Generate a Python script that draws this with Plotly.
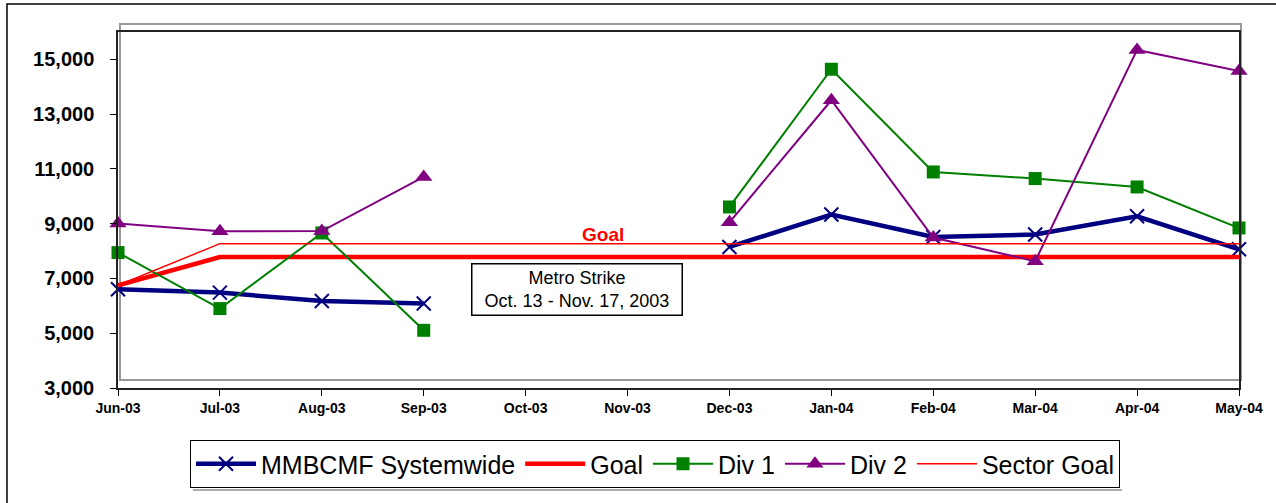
import plotly.graph_objects as go

months = ["Jun-03", "Jul-03", "Aug-03", "Sep-03", "Oct-03", "Nov-03",
          "Dec-03", "Jan-04", "Feb-04", "Mar-04", "Apr-04", "May-04"]

systemwide = [6605, 6484, 6178, 6083, None, None, 8150, 9333, 8515, 8603, 9271, 8066]
goal = [6750, 7780, 7780, 7780, 7780, 7780, 7780, 7780, 7780, 7780, 7780, 7780]
div1 = [7945, 5900, 8661, 5107, None, None, 9611, 14640, 10889, 10648, 10341, 8844]
div2 = [9004, 8723, 8730, 10706, None, None, 9052, 13508, 8493, 7627, 15345, 14578]
sector_goal = [6750, 8270, 8270, 8270, 8270, 8270, 8270, 8270, 8270, 8270, 8270, 8270]

y_ticks = [3000, 5000, 7000, 9000, 11000, 13000, 15000]

FONT = "Arial, Liberation Sans, sans-serif"
W, H = 1276, 503
L, R, T, B = 118, 37, 32, 115
pw, ph = W - L - R, H - T - B


def px(x):
    return (x - L) / pw


def py(y):
    return (H - B - y) / ph


fig = go.Figure()
fig.add_trace(go.Scatter(
    x=months, y=systemwide, name="MMBCMF Systemwide", mode="lines+markers",
    line=dict(color="#000080", width=4.5),
    marker=dict(symbol="x-thin", size=14, line=dict(color="#000080", width=2)),
    connectgaps=False, cliponaxis=False))
fig.add_trace(go.Scatter(
    x=months, y=goal, name="Goal", mode="lines",
    line=dict(color="#FF0000", width=4.5), cliponaxis=False))
fig.add_trace(go.Scatter(
    x=months, y=div1, name="Div 1", mode="lines+markers",
    line=dict(color="#008000", width=2),
    marker=dict(symbol="square", size=13, color="#008000"),
    connectgaps=False, cliponaxis=False))
fig.add_trace(go.Scatter(
    x=months, y=div2, name="Div 2", mode="lines+markers",
    line=dict(color="#800080", width=2),
    marker=dict(symbol="triangle-up", size=15, color="#800080"),
    connectgaps=False, cliponaxis=False))
fig.add_trace(go.Scatter(
    x=months, y=sector_goal, name="Sector Goal", mode="lines",
    line=dict(color="#FF0000", width=1.5), cliponaxis=False))

fig.update_layout(
    width=W, height=H,
    margin=dict(l=L, r=R, t=T, b=B),
    paper_bgcolor="white", plot_bgcolor="white",
    font=dict(family=FONT, color="black"),
    showlegend=True,
    legend=dict(orientation="h",
                xref="container", x=655 / W, xanchor="center",
                yref="container", y=1 - 440 / H, yanchor="top",
                font=dict(family=FONT, size=25, color="black"),
                bordercolor="black", borderwidth=1, bgcolor="white",
                itemwidth=60, tracegroupgap=0),
    xaxis=dict(type="category", range=[0, len(months) - 1],
               showgrid=False, zeroline=False,
               showline=True, linecolor="#222", linewidth=1.5, mirror=True,
               ticks="outside", ticklen=6, tickcolor="black",
               tickfont=dict(family=FONT, size=14, weight="bold")),
    yaxis=dict(range=[3000, 16000], tickvals=y_ticks, tickformat=",d",
               showgrid=False, zeroline=False,
               showline=True, linecolor="#222", linewidth=1.5, mirror=True,
               ticks="outside", ticklen=6, tickcolor="black",
               ticklabelstandoff=12,
               tickfont=dict(family=FONT, size=20, weight="bold")),
    shapes=[
        # outer chart frame
        dict(type="rect", xref="paper", yref="paper",
             x0=px(7), x1=px(1300), y0=py(530), y1=py(4),
             line=dict(color="black", width=1.5), layer="below"),
        # plot-area frame
        dict(type="rect", xref="paper", yref="paper",
             x0=px(120), x1=px(1241), y0=py(380), y1=py(24),
             line=dict(color="#999999", width=2), layer="below"),
        # legend shadow
        dict(type="line", xref="paper", yref="paper",
             x0=px(193), x1=px(1122), y0=py(490), y1=py(490),
             line=dict(color="#aaaaaa", width=2)),
    ],
    annotations=[
        dict(x=4.76, y=8620, xref="x", yref="y", text="<b>Goal</b>",
             showarrow=False, font=dict(family=FONT, size=19, color="#FF0000")),
        dict(x=4.5, y=6600, xref="x", yref="y",
             text="Metro Strike<br>Oct. 13 - Nov. 17, 2003",
             showarrow=False, align="center",
             font=dict(family=FONT, size=18, color="black"),
             bgcolor="white", bordercolor="black", borderwidth=1.5,
             width=205, height=46, borderpad=2),
    ],
)

fig.write_html("out.html")
